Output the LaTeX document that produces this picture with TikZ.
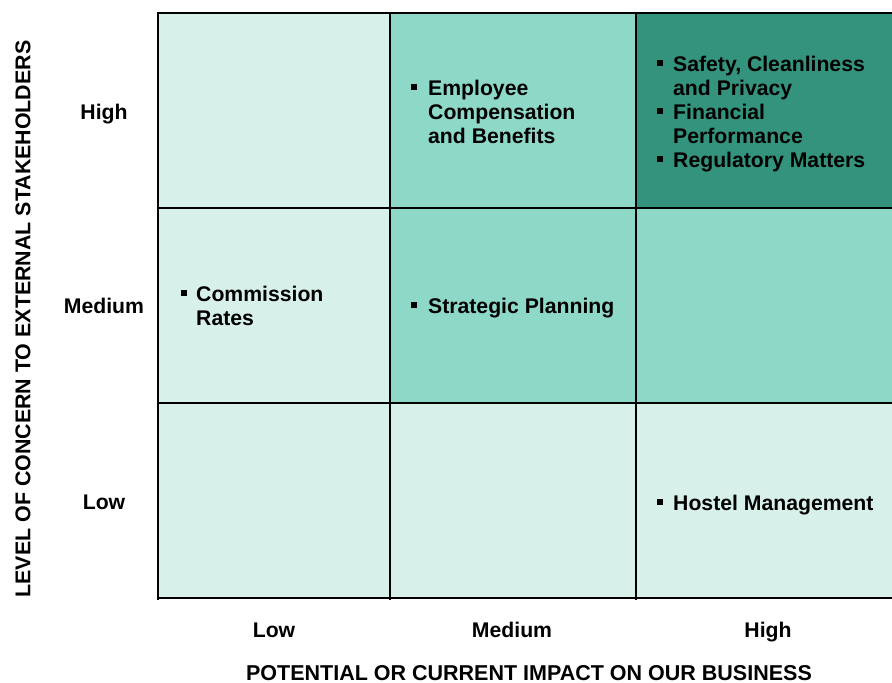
\documentclass[tikz,border=0pt]{standalone}
\usepackage{fontspec}
\setmainfont{Liberation Sans}
\definecolor{cLight}{HTML}{D8F0EA}
\definecolor{cMid}{HTML}{8ED8C8}
\definecolor{cDark}{HTML}{33937C}
\newcommand\mybul[2]{\fill (#1,#2-5.5) rectangle ++(6,-6);}
\begin{document}
\begin{tikzpicture}[x=1pt,y=-1pt,
  txt/.style={font=\bfseries\fontsize{21.2}{24}\selectfont, inner sep=0pt, anchor=base west},
  lab/.style={font=\bfseries\fontsize{21.2}{24}\selectfont, inner sep=0pt, anchor=base},
  grid/.style={line width=2pt, black}]
\useasboundingbox (0,0) rectangle (892,683);
\clip (0,0) rectangle (892,683);
% cells
\fill[cLight] (158,13) rectangle (390,208);
\fill[cMid]   (390,13) rectangle (636,208);
\fill[cDark]  (636,13) rectangle (893,208);
\fill[cLight] (158,208) rectangle (390,403);
\fill[cMid]   (390,208) rectangle (636,403);
\fill[cMid]   (636,208) rectangle (893,403);
\fill[cLight] (158,403) rectangle (390,598);
\fill[cLight] (390,403) rectangle (636,598);
\fill[cLight] (636,403) rectangle (893,598);
% grid lines
\draw[grid] (158,13) -- (894,13);
\draw[grid] (158,208) -- (894,208);
\draw[grid] (158,403) -- (894,403);
\draw[grid] (158,598) -- (894,598);
\draw[grid] (158,12) -- (158,600);
\draw[grid] (390,12) -- (390,600);
\draw[grid] (636,12) -- (636,600);
% row labels
\node[lab] (rHigh) at (104,119.5) {High};
\node[lab] (rMed) at (104,313.5) {Medium};
\node[lab] (rLow) at (104,509.5) {Low};
% column labels
\node[lab] (cLow) at (274,637.5) {Low};
\node[lab] (cMedL) at (512,637.5) {Medium};
\node[lab] (cHigh) at (768,637.5) {High};
% axis titles
\node[lab, font=\bfseries\fontsize{21.5}{24}\selectfont] (xtitle) at (529,680.5) {POTENTIAL OR CURRENT IMPACT ON OUR BUSINESS};
\node[lab, rotate=90, font=\bfseries\fontsize{21.4}{24}\selectfont] (ytitle) at (30.5,319) {LEVEL OF CONCERN TO EXTERNAL STAKEHOLDERS};
% cell texts: medium impact / high concern
\mybul{411}{95.5}
\node[txt] (e1) at (428,95.5) {Employee};
\node[txt] (e2) at (428,119.5) {Compensation};
\node[txt] (e3) at (428,143.5) {and Benefits};
% high / high
\mybul{657}{71}
\node[txt] (s1) at (673,71) {Safety, Cleanliness};
\node[txt] (s2) at (673,95) {and Privacy};
\mybul{657}{119}
\node[txt] (f1) at (673,119) {Financial};
\node[txt] (f2) at (673,143) {Performance};
\mybul{657}{167.5}
\node[txt] (g1) at (673,167.5) {Regulatory Matters};
% low / medium
\mybul{181}{301.5}
\node[txt] (c1) at (196,301.5) {Commission};
\node[txt] (c2) at (196,325.5) {Rates};
% medium / medium
\mybul{411}{313.5}
\node[txt] (p1) at (428,313.5) {Strategic Planning};
% high / low
\mybul{657}{510}
\node[txt] (h1) at (673,510) {Hostel Management};
\end{tikzpicture}
\end{document}
